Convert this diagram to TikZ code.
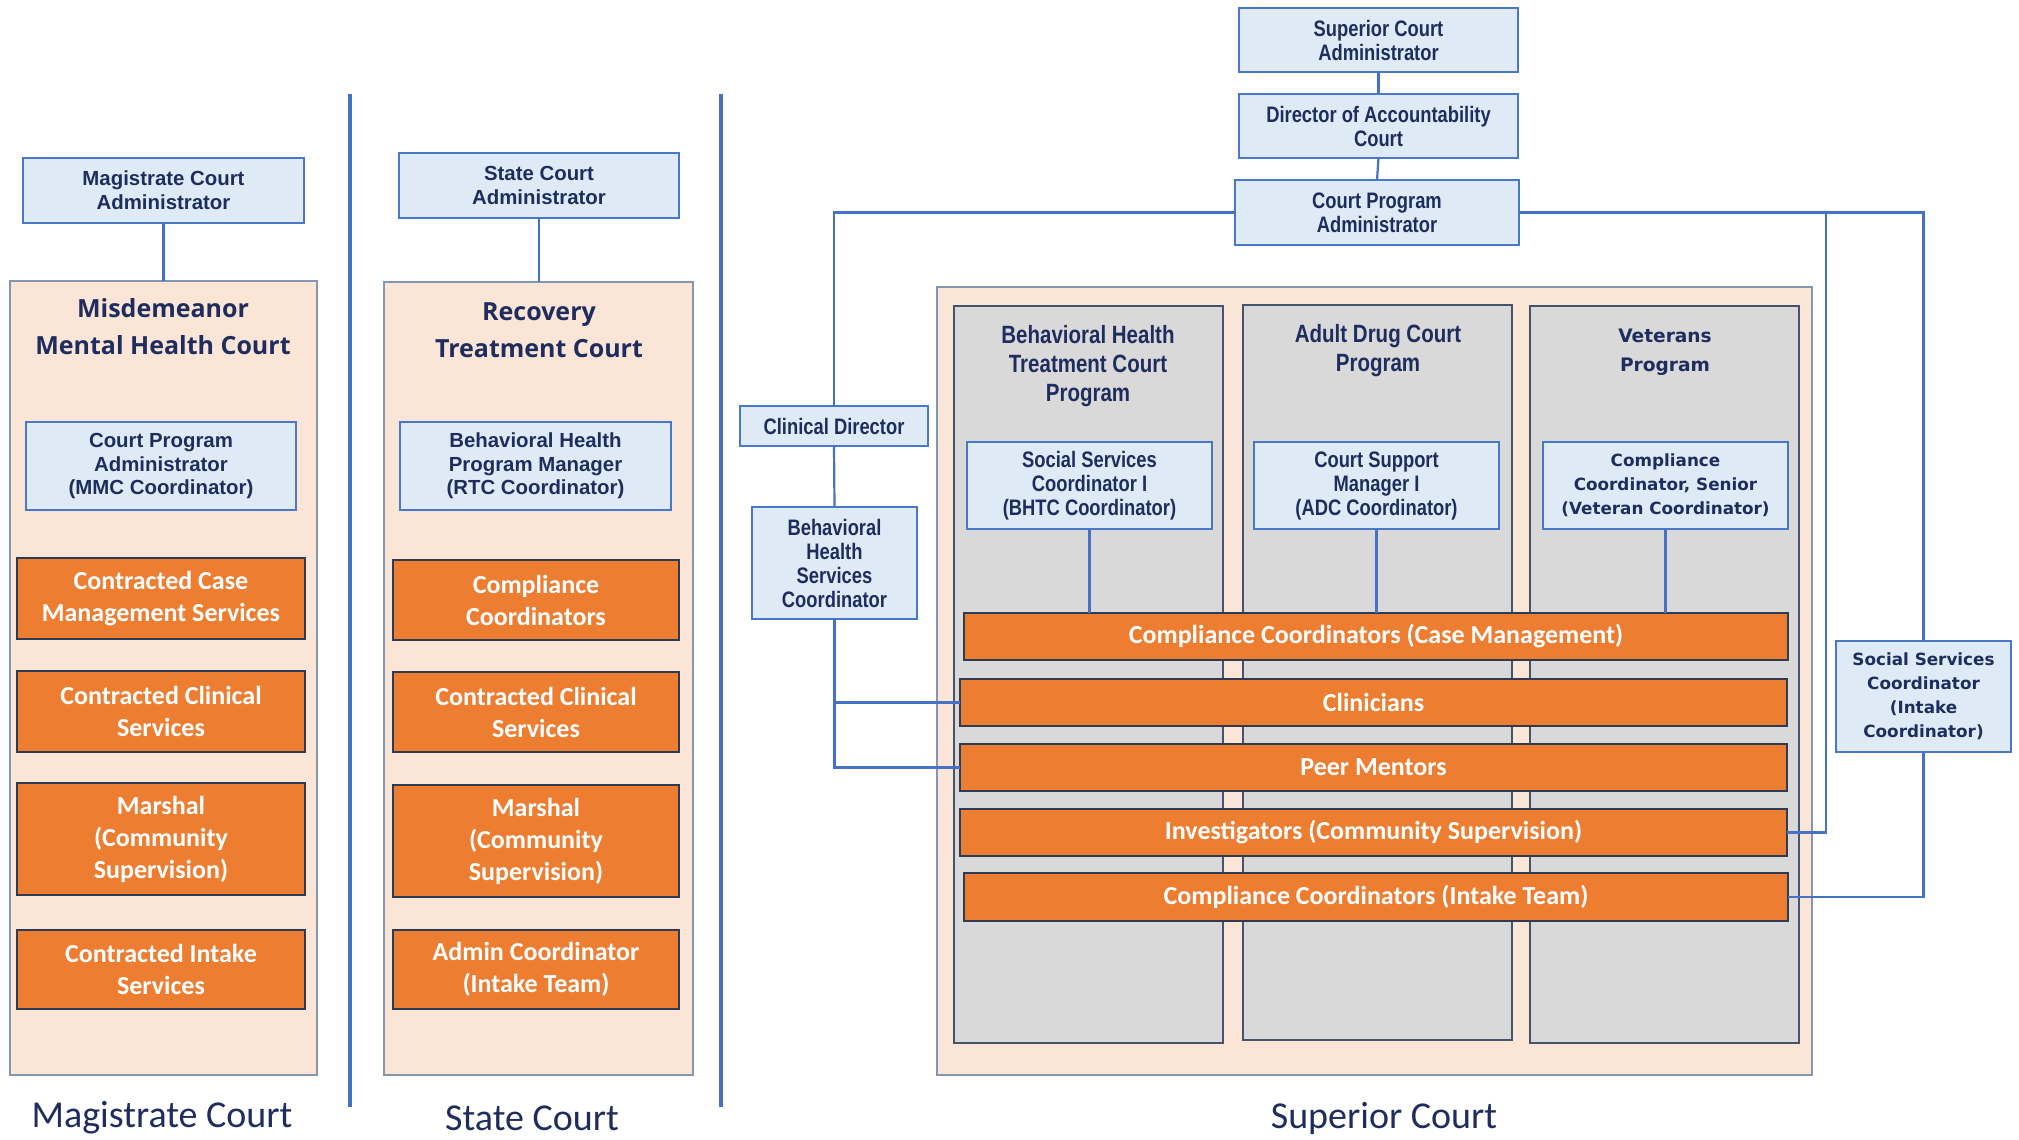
\documentclass[tikz,border=0pt]{standalone}
\usepackage{fontspec}
\setmainfont{Liberation Sans}
\newfontfamily\narrowf[FakeStretch=0.82]{Liberation Sans}
\newfontfamily\calib{Carlito}
\newfontfamily\titlef{Open Sans}
\newfontfamily\verd{DejaVu Sans}
\definecolor{navy}{HTML}{1F2D5E}
\definecolor{lblue}{HTML}{DEEBF7}
\definecolor{bline}{HTML}{4A78C8}
\definecolor{peach}{HTML}{FBE5D6}
\definecolor{peachline}{HTML}{8497B0}
\definecolor{lgray}{HTML}{D9D9D9}
\definecolor{grayline}{HTML}{44546A}
\definecolor{orng}{HTML}{ED7D31}
\definecolor{oline}{HTML}{2E3B55}
\definecolor{cblue}{HTML}{4472C4}
% box from corner (x1,y1) to (x2,y2), pixel units
\newcommand\bx[7]{\node[#1, minimum width={(#5-#3)*0.5pt}, minimum height={(#6-#4)*0.5pt}] (#2) at ({(#3+#5)/2},{(#4+#6)/2}) {#7};}
\begin{document}
\begin{tikzpicture}[x=0.5pt,y=-0.5pt,
  box/.style={inner sep=0pt, outer sep=0pt, align=center, text=navy},
  bluebox/.style={box, draw=bline, fill=lblue, line width=0.8pt, font=\bfseries\fontsize{10.2}{11.8}\selectfont},
  nbluebox/.style={bluebox, font=\narrowf\bfseries\fontsize{11.2}{12}\selectfont},
  vbluebox/.style={bluebox, font=\verd\bfseries\fontsize{8.4}{12}\selectfont},
  orgbox/.style={box, draw=oline, fill=orng, line width=1pt, text=white, font=\calib\bfseries\fontsize{13}{16}\selectfont},
  peachbox/.style={draw=peachline, fill=peach, line width=0.8pt, inner sep=0pt, outer sep=0pt},
  graybox/.style={draw=grayline, fill=lgray, line width=0.8pt, inner sep=0pt, outer sep=0pt},
  conn/.style={draw=cblue, line width=1.1pt},
  divider/.style={draw=cblue, line width=2pt},
  maintitle/.style={text=navy, align=center, font=\titlef\bfseries\fontsize{12.5}{18.5}\selectfont},
  coltitle/.style={text=navy, align=center, font=\narrowf\bfseries\fontsize{12.5}{14.5}\selectfont},
  vcoltitle/.style={text=navy, align=center, font=\verd\bfseries\fontsize{9.3}{14.5}\selectfont},
  courtlabel/.style={text=navy, font=\calib\fontsize{19}{22}\selectfont}
]
\useasboundingbox (0,0) rectangle (2019,1140);

% dividers
\coordinate (d1t) at (350,94); \coordinate (d1b) at (350,1107);
\coordinate (d2t) at (721,94); \coordinate (d2b) at (721,1107);
\draw[divider] (d1t) -- (d1b);
\draw[divider] (d2t) -- (d2b);

% ---------- Magistrate Court ----------
\bx{peachbox}{peachM}{10}{281}{317}{1075}{}
\bx{bluebox}{magadm}{23}{158}{304}{223}{Magistrate Court\\Administrator}
\node[maintitle] (titleM) at (163,327) {Misdemeanor\\Mental Health Court};
\bx{bluebox}{mmc}{26}{422}{296}{510}{Court Program\\Administrator\\(MMC Coordinator)}
\bx{orgbox}{mo1}{17}{558}{305}{639}{Contracted Case\\Management Services}
\bx{orgbox}{mo2}{17}{671}{305}{752}{Contracted Clinical\\Services}
\bx{orgbox}{mo3}{17}{783}{305}{895}{Marshal\\(Community\\Supervision)}
\bx{orgbox}{mo4}{17}{930}{305}{1009}{Contracted Intake\\Services}
\node[courtlabel] (labM) at (162,1118) {Magistrate Court};
\draw[conn] (magadm.south) -- (magadm.south |- peachM.north);

% ---------- State Court ----------
\bx{peachbox}{peachS}{384}{282}{693}{1075}{}
\bx{bluebox}{stadm}{399}{153}{679}{218}{State Court\\Administrator}
\node[maintitle] (titleS) at (539,330) {Recovery\\Treatment Court};
\bx{bluebox}{rtc}{400}{422}{671}{510}{Behavioral Health\\Program Manager\\(RTC Coordinator)}
\bx{orgbox}{so1}{393}{560}{679}{640}{Compliance\\Coordinators}
\bx{orgbox}{so2}{393}{672}{679}{752}{Contracted Clinical\\Services}
\bx{orgbox}{so3}{393}{785}{679}{897}{Marshal\\(Community\\Supervision)}
\bx{orgbox}{so4}{393}{930}{679}{1009}{Admin Coordinator\\(Intake Team)}
\node[courtlabel] (labS) at (532,1118) {State Court};
\draw[conn] (stadm.south) -- (stadm.south |- peachS.north);

% ---------- Superior Court ----------
\bx{peachbox}{peachSup}{937}{287}{1812}{1075}{}
\bx{graybox}{colB}{954}{306}{1223}{1043}{}
\bx{graybox}{colA}{1243}{305}{1512}{1040}{}
\bx{graybox}{colV}{1530}{306}{1799}{1043}{}
\node[coltitle] (tB) at (1088,366) {Behavioral Health\\Treatment Court\\Program};
\node[coltitle] (tA) at (1378,351) {Adult Drug Court\\Program};
\node[vcoltitle] (tV) at (1665,352) {Veterans\\Program};

\bx{nbluebox}{supadm}{1239}{8}{1518}{72}{Superior Court\\Administrator}
\bx{nbluebox}{diracc}{1239}{94}{1518}{158}{Director of Accountability\\Court}
\bx{nbluebox}{cpa}{1235}{180}{1519}{245}{Court Program\\Administrator}
\bx{nbluebox}{clindir}{740}{406}{928}{446}{Clinical Director}
\bx{nbluebox}{bhsc}{752}{507}{917}{619}{Behavioral\\Health\\Services\\Coordinator}
\bx{nbluebox}{ssc1}{967}{442}{1212}{529}{Social Services\\Coordinator I\\(BHTC Coordinator)}
\bx{nbluebox}{csm}{1254}{442}{1499}{529}{Court Support\\Manager I\\(ADC Coordinator)}
\bx{vbluebox}{ccs}{1543}{442}{1788}{529}{Compliance\\Coordinator, Senior\\(Veteran Coordinator)}
\bx{vbluebox}{sscI}{1836}{641}{2011}{752}{Social Services\\Coordinator\\(Intake\\Coordinator)}

\bx{orgbox}{b1}{964}{613}{1788}{660}{Compliance Coordinators (Case Management)}
\bx{orgbox}{b2}{960}{679}{1787}{726}{Clinicians}
\bx{orgbox}{b3}{960}{744}{1787}{791}{Peer Mentors}
\bx{orgbox}{b4}{960}{809}{1787}{856}{Investigators (Community Supervision)}
\bx{orgbox}{b5}{964}{873}{1788}{921}{Compliance Coordinators (Intake Team)}
\node[courtlabel] (labSup) at (1384,1118) {Superior Court};

% connectors
\draw[conn] (supadm.south) -- (diracc.north);
\draw[conn] (diracc.south) -- (cpa.north);
\draw[conn] (cpa.west) -| (clindir.north);
\draw[conn] (clindir.south) -- (bhsc.north);
\draw[conn] (bhsc.south) |- (b3.west);
\draw[conn] (bhsc.south |- b2.west) -- (b2.west);
\draw[conn] (cpa.east) -| (sscI.north);
\coordinate (jn) at (1826,212.5);
\draw[conn] (jn) |- (b4.east);
\draw[conn] (sscI.south) |- (b5.east);
\draw[conn] (ssc1.south) -- (ssc1.south |- b1.north);
\draw[conn] (csm.south) -- (csm.south |- b1.north);
\draw[conn] (ccs.south) -- (ccs.south |- b1.north);
\end{tikzpicture}
\end{document}
